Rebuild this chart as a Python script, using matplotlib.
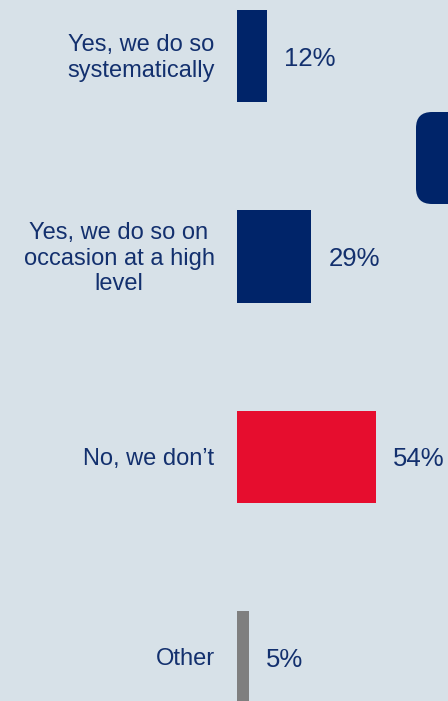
import matplotlib.pyplot as plt
from matplotlib.patches import FancyBboxPatch
from matplotlib.transforms import offset_copy

plt.rcParams['font.family'] = ['Liberation Sans', 'DejaVu Sans']

# data
categories = ['Yes, we do so\nsystematically',
              'Yes, we do so on\noccasion at a high\nlevel',
              'No, we don\u2019t',
              'Other']
values = [12, 29, 54, 5]
value_labels = ['12%', '29%', '54%', '5%']
colors = ['#002469', '#002469', '#E60D2E', '#7F7F7F']

bg = '#D7E1E8'
text_col = '#13306E'

fig = plt.figure(figsize=(4.48, 7.01), dpi=100)
fig.patch.set_facecolor(bg)
ax = fig.add_axes([0, 0, 1, 1])
ax.set_facecolor(bg)

ypos = list(range(len(values)))
ax.barh(ypos, values, height=0.46, color=colors, left=0)

# scale: ~2.58 px per percent, bars start at x=236px
px = 2.58
ax.set_xlim(-236.5 / px, (448 - 236.5) / px)
ax.set_ylim((701 - 56) / 200.5, -56 / 200.5)
ax.axis('off')

lab_tr = offset_copy(ax.transData, fig=fig, x=-22, y=-2, units='dots')
val_tr = offset_copy(ax.transData, fig=fig, x=17, y=0, units='dots')
for y, v, cat, vl in zip(ypos, values, categories, value_labels):
    ax.text(0, y, cat, transform=lab_tr, ha='right', va='center',
            multialignment='center', fontsize=17, color=text_col, linespacing=1.2)
    ax.text(v, y, vl, transform=val_tr, ha='left', va='center_baseline',
            fontsize=18.5, color=text_col)

# decoration cut off at right edge
deco = fig.add_axes([0, 0, 1, 1], facecolor='none')
deco.set_xlim(0, 448)
deco.set_ylim(701, 0)
deco.axis('off')
deco.add_patch(FancyBboxPatch((432, 128), 60, 60,
                              boxstyle='round,pad=16,rounding_size=16',
                              color='#002469', lw=0))

fig.savefig('out.png', dpi=100, facecolor=bg)
